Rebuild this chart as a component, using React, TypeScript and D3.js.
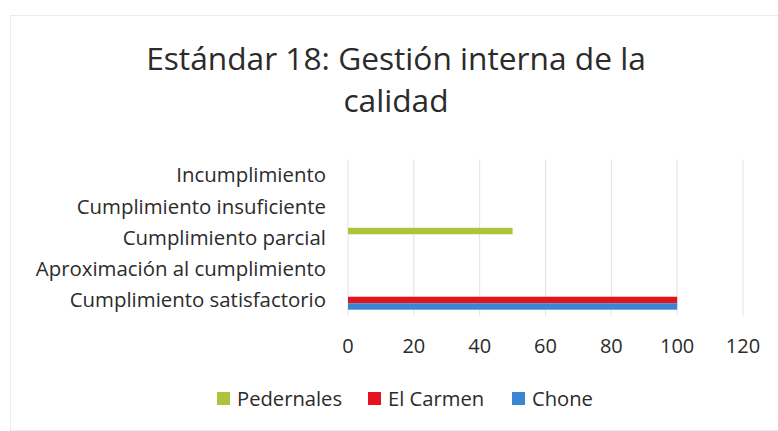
import React from 'react';
import * as d3 from 'd3';

const categories = [
	'Incumplimiento',
	'Cumplimiento insuficiente',
	'Cumplimiento parcial',
	'Aproximación al cumplimiento',
	'Cumplimiento satisfactorio',
];
const seriesNames = ['Pedernales', 'El Carmen', 'Chone'];
const pedernales = [0, 0, 50, 0, 0];
const elCarmen = [0, 0, 0, 0, 100];
const chone = [0, 0, 0, 0, 100];
const xTicks = [0, 20, 40, 60, 80, 100, 120];
const colors = ['#adc43a', '#e3141f', '#3a86d2'];

const FONT = '"Open Sans", sans-serif';

const App = () => {
	const W = 778;
	const H = 431;
	const series = [pedernales, elCarmen, chone];

	const x = d3.scaleLinear().domain([0, 120]).range([348, 743]);
	const y = d3.scaleBand<string>().domain(categories).range([159.4, 315.6]);
	const ySub = d3
		.scaleBand<string>()
		.domain(seriesNames)
		.range([0, y.bandwidth()])
		.paddingInner(0)
		.paddingOuter(0.91);

	const legendX = [217, 368, 512];

	return (
		<svg width={W} height={H} style={{ position: 'absolute', left: 0, top: 0 }} fontFamily={FONT}>
			<rect x={0} y={0} width={W} height={H} fill="#fff" />
			<rect x={10.5} y={15.5} width={W} height={H - 16} fill="none" stroke="#ececec" />

			<text x={396} y={70} textAnchor="middle" fontSize={31.7} fill="#2b2b2b">
				Estándar 18: Gestión interna de la
			</text>
			<text x={396} y={112} textAnchor="middle" fontSize={31.7} fill="#2b2b2b">
				calidad
			</text>

			{/* grid */}
			{xTicks.map((t) => (
				<line key={t} x1={x(t)} x2={x(t)} y1={y.range()[0]} y2={y.range()[1]} stroke="#e2e2e2" />
			))}

			{/* category labels */}
			{categories.map((c) => (
				<text
					key={c}
					x={326}
					y={(y(c) as number) + y.bandwidth() / 2}
					dy="0.36em"
					textAnchor="end"
					fontSize={20.4}
					fill="#2b2b2b"
				>
					{c}
				</text>
			))}

			{/* bars */}
			{series.map((vals, si) =>
				vals.map((v, ci) =>
					v > 0 ? (
						<rect
							key={si + '-' + ci}
							x={x(0)}
							y={(y(categories[ci]) as number) + (ySub(seriesNames[si]) as number)}
							width={x(v) - x(0)}
							height={ySub.bandwidth()}
							fill={colors[si]}
						/>
					) : null
				)
			)}

			{/* x tick labels */}
			{xTicks.map((t) => (
				<text key={t} x={x(t)} y={353} textAnchor="middle" fontSize={20} fill="#2b2b2b">
					{t}
				</text>
			))}

			{/* legend */}
			{seriesNames.map((s, i) => (
				<g key={s}>
					<rect x={legendX[i]} y={392} width={13} height={13} fill={colors[i]} />
					<text x={legendX[i] + 20} y={406} fontSize={20.2} fill="#2b2b2b">
						{s}
					</text>
				</g>
			))}
		</svg>
	);
};

export default App;
